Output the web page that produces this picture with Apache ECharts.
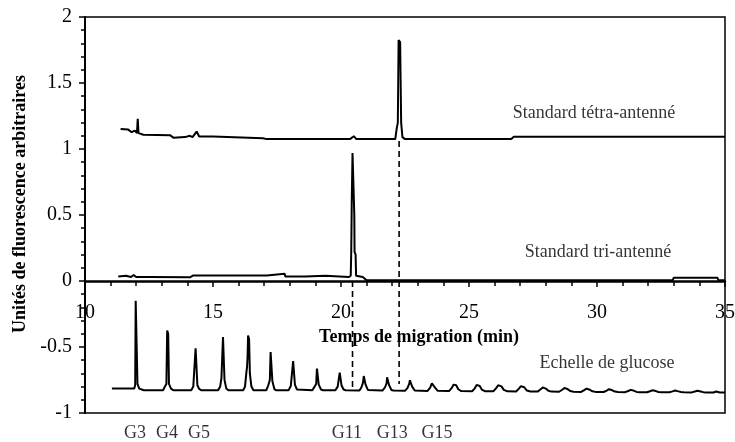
<!DOCTYPE html>
<html>
<head>
<meta charset="utf-8">
<script src="https://cdn.jsdelivr.net/npm/echarts@6/dist/echarts.min.js"></script>
<style>html,body{margin:0;padding:0;background:#fff}#c{width:735px;height:442px}</style>
</head>
<body>
<div id="c"></div>
<script>
// ---- data (x = minutes, y = arbitrary fluorescence units) ----
var tetraData = [[11.39,1.152],[11.69,1.147],[11.82,1.127],[11.95,1.14],[12.03,1.12],[12.06,1.228],[12.09,1.12],[12.15,1.117],[12.28,1.108],[13.32,1.105],[13.45,1.086],[13.9,1.09],[14.1,1.10],[14.2,1.09],[14.36,1.132],[14.46,1.095],[15.0,1.095],[16.95,1.082],[17.1,1.075],[20.35,1.075],[20.5,1.097],[20.6,1.075],[22.12,1.075],[22.18,1.16],[22.22,1.2],[22.25,1.826],[22.31,1.81],[22.35,1.2],[22.4,1.09],[22.5,1.075],[26.65,1.075],[26.75,1.092],[35,1.092]];

var triData = [[11.3,0.035],[11.6,0.04],[11.8,0.03],[11.9,0.045],[12.0,0.03],[12.5,0.03],[14.1,0.028],[14.23,0.042],[17.1,0.042],[17.12,0.055],[17.8,0.055],[17.82,0.035],[18.6,0.035],[18.66,0.045],[19.4,0.04],[20.3,0.03],[20.38,0.04],[20.4,0.22],[20.42,0.6],[20.45,0.97],[20.5,0.96],[20.52,0.5],[20.53,0.22],[20.57,0.2],[20.59,0.04],[20.85,0.03],[21.0,0.005],[32.95,0.005],[33.0,0.025],[34.7,0.025],[34.75,0.005],[35,0.005]];

var glucoseData = [[11.05,-0.815],[11.92,-0.815],[11.96,-0.79],[11.98,-0.15],[12.02,-0.15],[12.05,-0.78],[12.12,-0.815],[12.3,-0.828],
[13.05,-0.828],[13.12,-0.80],[13.18,-0.78],[13.21,-0.375],[13.25,-0.40],[13.28,-0.78],[13.36,-0.815],[13.45,-0.828],
[14.15,-0.828],[14.23,-0.80],[14.3,-0.79],[14.32,-0.51],[14.36,-0.525],[14.39,-0.79],[14.46,-0.818],[14.55,-0.828],
[15.2,-0.828],[15.28,-0.80],[15.33,-0.735],[15.37,-0.72],[15.39,-0.425],[15.42,-0.44],[15.45,-0.75],[15.52,-0.815],[15.6,-0.828],
[16.18,-0.828],[16.25,-0.80],[16.3,-0.70],[16.33,-0.65],[16.35,-0.575],[16.37,-0.413],[16.41,-0.44],[16.44,-0.70],[16.5,-0.80],[16.58,-0.828],
[17.08,-0.828],[17.16,-0.79],[17.22,-0.75],[17.25,-0.538],[17.29,-0.55],[17.32,-0.76],[17.4,-0.82],[17.48,-0.828],
[17.95,-0.828],[18.04,-0.795],[18.1,-0.78],[18.13,-0.606],[18.17,-0.62],[18.2,-0.785],[18.28,-0.822],[18.35,-0.828],
[18.88,-0.828],[18.97,-0.8],[19.03,-0.78],[19.06,-0.664],[19.1,-0.675],[19.13,-0.785],[19.22,-0.822],[19.3,-0.828],
[19.78,-0.828],[19.87,-0.80],[19.93,-0.785],[19.95,-0.694],[19.99,-0.70],[20.02,-0.79],[20.1,-0.822],[20.18,-0.828],
[20.72,-0.83],[20.8,-0.805],[20.86,-0.77],[20.89,-0.72],[20.93,-0.725],[20.96,-0.785],[21.05,-0.825],[21.12,-0.83],
[21.62,-0.83],[21.72,-0.805],[21.78,-0.775],[21.8,-0.73],[21.84,-0.735],[21.88,-0.79],[21.97,-0.826],[22.05,-0.83],
[22.5,-0.832],[22.6,-0.81],[22.67,-0.775],[22.69,-0.752],[22.73,-0.758],[22.78,-0.8],[22.88,-0.83],[22.95,-0.832],
[23.38,-0.833],[23.48,-0.81],[23.55,-0.775],[23.58,-0.765],[23.62,-0.775],[23.68,-0.81],[23.78,-0.832],[23.85,-0.833],
[24.22,-0.834],[24.32,-0.812],[24.4,-0.785],[24.45,-0.78],[24.5,-0.79],[24.58,-0.82],[24.7,-0.834],
[25.12,-0.835],[25.22,-0.815],[25.3,-0.787],[25.35,-0.785],[25.42,-0.795],[25.5,-0.822],[25.62,-0.835],
[25.95,-0.836],[26.06,-0.812],[26.14,-0.79],[26.2,-0.787],[26.27,-0.798],[26.36,-0.825],[26.5,-0.836],
[26.84,-0.837],[26.95,-0.815],[27.03,-0.797],[27.08,-0.795],[27.16,-0.805],[27.26,-0.83],[27.4,-0.837],
[27.68,-0.838],[27.8,-0.82],[27.88,-0.806],[27.93,-0.805],[28.0,-0.815],[28.1,-0.832],[28.22,-0.838],
[28.52,-0.839],[28.64,-0.824],[28.73,-0.81],[28.78,-0.81],[28.86,-0.82],[28.96,-0.834],[29.08,-0.839],
[29.38,-0.84],[29.5,-0.826],[29.59,-0.815],[29.64,-0.815],[29.72,-0.824],[29.82,-0.836],[29.94,-0.84],
[30.26,-0.841],[30.38,-0.83],[30.47,-0.82],[30.52,-0.82],[30.6,-0.828],[30.7,-0.838],[30.82,-0.841],
[31.1,-0.842],[31.22,-0.833],[31.32,-0.825],[31.37,-0.825],[31.45,-0.832],[31.55,-0.84],[31.67,-0.842],
[31.95,-0.843],[32.07,-0.835],[32.17,-0.828],[32.22,-0.828],[32.3,-0.834],[32.4,-0.841],[32.52,-0.843],
[32.83,-0.843],[32.95,-0.836],[33.05,-0.83],[33.1,-0.83],[33.18,-0.836],[33.28,-0.841],[33.4,-0.843],
[33.7,-0.844],[33.82,-0.837],[33.92,-0.831],[33.97,-0.831],[34.05,-0.837],[34.15,-0.842],[34.27,-0.844],
[34.55,-0.845],[34.62,-0.84],[34.66,-0.837],[34.72,-0.84],[34.8,-0.845],[35,-0.845]];

var dashTriData = [[20.45,0.0],[20.45,-0.815]];
var dashTetraData = [[22.27,1.06],[22.27,-0.78]];

var glucoseLabels = ['G3','G4','G5','G11','G13','G15'];
var glucoseLabelX = [11.95,13.2,14.45,20.23,22.0,23.75];
var glucoseLabelY = -1.15;

var annotationTexts = ['Standard tétra-antenné','Standard tri-antenné','Echelle de glucose'];
var annotationX = [29.88,30.04,30.39];
var annotationY = [1.27,0.219,-0.626];

var xTicks = {min:10, max:35, interval:5};
var yTicks = {min:-1, max:2, interval:0.5};

// ---- chart ----
var FONT = '"Liberation Serif", "Times New Roman", serif';
var chart = echarts.init(document.getElementById('c'), null, {renderer:'canvas'});

var GRID = {left:85, right:10, top:17, bottom:29};
var plotH = 442 - GRID.top - GRID.bottom;
// x axis drawn on the y = 0 line: shift it up from the bottom edge
var zeroOffset = -plotH * (0 - yTicks.min) / (yTicks.max - yTicks.min);

var lineStyleBase = {color:'#000', width:2};
function lineSeries(data){
  return {type:'line', data:data, showSymbol:false, symbol:'none', lineStyle:lineStyleBase, animation:false, silent:true, z:3};
}

var option = {
  backgroundColor:'#fff',
  animation:false,
  grid:{left:GRID.left, right:GRID.right, top:GRID.top, bottom:GRID.bottom, containLabel:false, outerBoundsMode:'none',
        show:true, borderColor:'#000', borderWidth:1.5, backgroundColor:'transparent'},
  xAxis:{
    type:'value', min:xTicks.min, max:xTicks.max, interval:xTicks.interval,
    position:'bottom', offset:zeroOffset,
    axisLine:{onZero:false, lineStyle:{color:'#000', width:2.5}},
    axisTick:{show:true, length:6, lineStyle:{color:'#000', width:1.5}},
    minorTick:{show:true, splitNumber:5, length:5, lineStyle:{color:'#000', width:1.5}},
    splitLine:{show:false},
    axisLabel:{fontFamily:FONT, fontSize:20, color:'#000', margin:22},
    name:'Temps de migration (min)', nameLocation:'middle', nameGap:41,
    nameTextStyle:{fontFamily:FONT, fontSize:18, fontWeight:'bold', color:'#000', padding:[0,0,0,28]}
  },
  yAxis:{
    type:'value', min:yTicks.min, max:yTicks.max, interval:yTicks.interval,
    axisLine:{show:true, onZero:false, lineStyle:{color:'#000', width:2}},
    axisTick:{show:true, length:6, lineStyle:{color:'#000', width:1.5}},
    minorTick:{show:true, splitNumber:5, length:4, lineStyle:{color:'#000', width:1.5}},
    splitLine:{show:false},
    axisLabel:{fontFamily:FONT, fontSize:20, color:'#000', margin:13},
    name:'Unités de fluorescence arbitraires', nameLocation:'middle', nameGap:55,
    nameTextStyle:{fontFamily:FONT, fontSize:18, fontWeight:'bold', color:'#000', padding:[0,0,0,22]}
  },
  series:[
    lineSeries(tetraData),
    lineSeries(triData),
    lineSeries(glucoseData),
    {type:'line', data:dashTriData, showSymbol:false, symbol:'none', animation:false, silent:true,
     lineStyle:{color:'#000', width:1.6, type:[6,4]}},
    {type:'line', data:dashTetraData, showSymbol:false, symbol:'none', animation:false, silent:true,
     lineStyle:{color:'#000', width:1.6, type:[6,4]}},
    {type:'scatter', clip:false, symbolSize:0, silent:true, animation:false,
     data:glucoseLabels.map(function(t,i){return {value:[glucoseLabelX[i], glucoseLabelY], name:t};}),
     label:{show:true, position:'inside', formatter:'{b}', fontFamily:FONT, fontSize:18, color:'#000'}},
    {type:'scatter', clip:false, symbolSize:0, silent:true, animation:false,
     data:annotationTexts.map(function(t,i){return {value:[annotationX[i], annotationY[i]], name:t};}),
     label:{show:true, position:'inside', formatter:'{b}', fontFamily:FONT, fontSize:18, color:'#000'}}
  ]
};
chart.setOption(option);
</script>
</body>
</html>
